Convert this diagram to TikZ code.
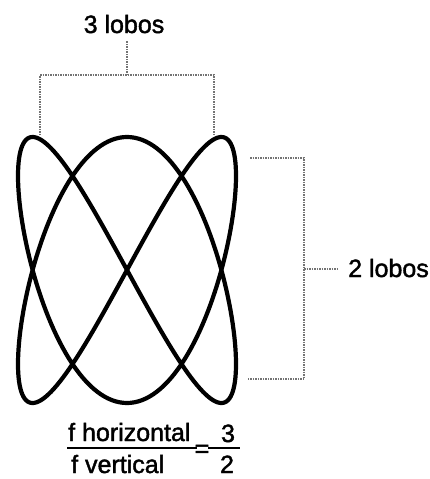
\documentclass[tikz,border=0pt]{standalone}
\usepackage{fontspec}
\setmainfont{Liberation Sans}
\newfontfamily\lblfont{Liberation Sans}[BoldFont={Liberation Sans},
  BoldFeatures={FakeBold=1.6}]
\usetikzlibrary{positioning}

\begin{document}
\begin{tikzpicture}[
  x=1pt, y=-1pt,
  lbl/.style={font=\lblfont\bfseries\fontsize{25}{30}\selectfont, inner sep=0pt},
  curve/.style={line width=4.2pt, line join=round},
  brk/.style={draw=black!55, densely dotted, line width=1.5pt},
  bar/.style={line width=2.6pt}]
\useasboundingbox (0,0) rectangle (430,479);
% Lissajous figure, 3 lobes across, 2 lobes down
\draw[curve] plot[domain=0:360, samples=361]
  ({127+109*sin(2*\x)}, {270-133*sin(3*\x)}) -- cycle;
\node[lbl, anchor=base] (lobos3) at (124,33) {3 lobos};
\node[lbl, anchor=base west] (lobos2) at (348,277) {2 lobos};
\coordinate (topL) at (40,135);
\coordinate (topR) at (214,135);
\coordinate (topM) at (127,75);
\coordinate (rT) at (250,158);
\coordinate (rB) at (248,379);
\coordinate (rM) at (304,269);
% brackets
\draw[brk] (topL) |- (topM) -| (topR);
\draw[brk, shorten >=8pt] (topM) -- (topM |- lobos3.south);
\draw[brk] (rT) -| (rM) |- (rB);
\draw[brk, shorten >=10pt] (rM) -- (rM -| lobos2.west);
% ratio
\node[lbl, anchor=base west] (fh) at (68,441) {f horizontal};
\node[lbl, anchor=base west] (fv) at (71,473) {f vertical};
\draw[bar] (67,448) -- (197,448);
\node[lbl, anchor=base] (eq) at (202,457) {=};
\node[lbl, anchor=base] (num) at (228,442) {3};
\node[lbl, anchor=base] (den) at (227,473) {2};
\draw[bar] (208,448) -- (240,448);
\end{tikzpicture}
\end{document}
